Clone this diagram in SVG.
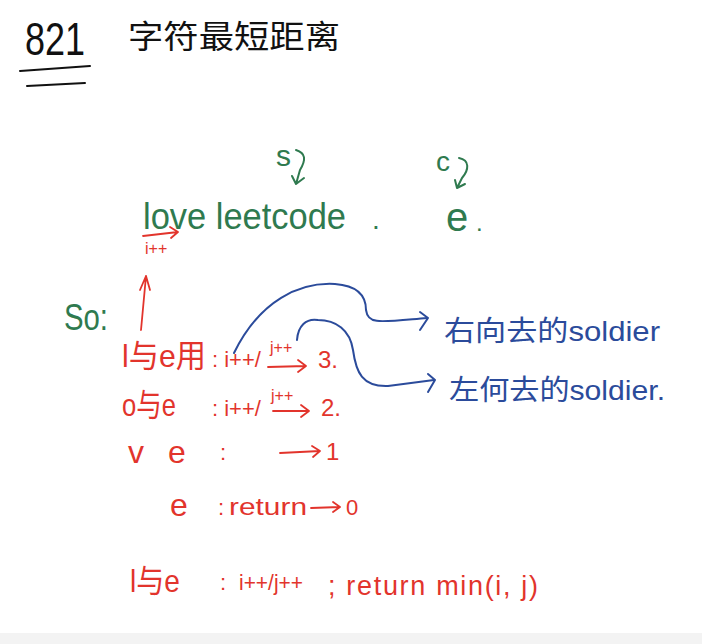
<svg xmlns="http://www.w3.org/2000/svg" width="702" height="644" viewBox="0 0 702 644">
<style>
text{font-family:"Liberation Sans","Noto Sans CJK SC",sans-serif}
.k{fill:#111}
.g{fill:#2f7a4f}
.r{fill:#e2342c}
.b{fill:#2b4b9b}
.ls{fill:none;stroke:#111;stroke-width:2;stroke-linecap:round}
.lr{fill:none;stroke:#e2342c;stroke-width:1.8;stroke-linecap:round;stroke-linejoin:round}
.lg{fill:none;stroke:#2f7a4f;stroke-width:2;stroke-linecap:round;stroke-linejoin:round}
.lb{fill:none;stroke:#2b4b9b;stroke-width:2;stroke-linecap:round;stroke-linejoin:round}
</style>
<rect width="702" height="644" fill="#fff"/>
<rect x="0" y="633" width="702" height="11" fill="#f3f3f3"/>
<g id="title">
<text class="k" x="25" y="55" font-size="46" textLength="60" lengthAdjust="spacingAndGlyphs">821</text>
<path class="ls" d="M20 71 L90 66 M27 86 L85 83"/>
<text class="k" x="128" y="48" font-size="32" textLength="212" lengthAdjust="spacingAndGlyphs">字符最短距离</text>
</g>
<g id="string">
<text class="g" x="143" y="229" font-size="36" textLength="203" lengthAdjust="spacingAndGlyphs">love leetcode</text>
<text class="g" x="372" y="229" font-size="28">.</text>
<text class="g" x="446" y="231" font-size="40">e</text>
<text class="g" x="476" y="231" font-size="24">.</text>
<text class="g" x="276" y="166" font-size="30">s</text>
<text class="g" x="436" y="171" font-size="28">c</text>
</g>
<g id="so">
<text class="g" x="64" y="330" font-size="36" textLength="44" lengthAdjust="spacingAndGlyphs">So:</text>
</g>
<g id="row1">
<text class="r" x="122" y="367" font-size="32" textLength="84" lengthAdjust="spacingAndGlyphs">l与e用</text>
<text class="r" x="212" y="367" font-size="22">: i++/</text>
<text class="r" x="270" y="353" font-size="16">j++</text>
<text class="r" x="318" y="368" font-size="24">3.</text>
</g>
<g id="row2">
<text class="r" x="122" y="416" font-size="32" textLength="54" lengthAdjust="spacingAndGlyphs">o与e</text>
<text class="r" x="212" y="416" font-size="22">: i++/</text>
<text class="r" x="271" y="401" font-size="16">j++</text>
<text class="r" x="321" y="416" font-size="24">2.</text>
</g>
<g id="row3">
<text class="r" x="128" y="463" font-size="32">v</text>
<text class="r" x="168" y="463" font-size="32">e</text>
<text class="r" x="220" y="460" font-size="22">:</text>
<text class="r" x="326" y="460" font-size="24">1</text>
</g>
<g id="row4">
<text class="r" x="170" y="516" font-size="32">e</text>
<text class="r" x="218" y="515" font-size="22">:</text>
<text class="r" x="229" y="515" font-size="24" textLength="78" lengthAdjust="spacingAndGlyphs">return</text>
<text class="r" x="346" y="515" font-size="22">0</text>
</g>
<g id="row5">
<text class="r" x="130" y="592" font-size="32" textLength="50" lengthAdjust="spacingAndGlyphs">l与e</text>
<text class="r" x="220" y="590" font-size="22">:</text>
<text class="r" x="239" y="590" font-size="22" textLength="64" lengthAdjust="spacingAndGlyphs">i++/j++</text>
<text class="r" x="328" y="595" font-size="27" textLength="210">; return min(i, j)</text>
</g>
<g id="note-right">
<text class="b" x="444" y="341" font-size="28" textLength="216" lengthAdjust="spacingAndGlyphs">右向去的soldier</text>
</g>
<g id="note-left">
<text class="b" x="449" y="400" font-size="28" textLength="216" lengthAdjust="spacingAndGlyphs">左何去的soldier.</text>
</g>
<g id="connectors">
<path class="lg" d="M296 150 C306 153 306 160 300 170 L296 184 M292 176 L296 184 L304 178"/>
<path class="lg" d="M459 158 C470 160 469 170 462 178 L457 188 M455 180 L457 188 L465 184"/>
<path class="lr" d="M143 236 L178 232 M170 227 L178 232 L171 238"/>
<text class="r" x="145" y="254" font-size="16">i++</text>
<path class="lr" d="M141 330 L146 276 M140 290 L146 276 L150 290"/>
<path class="lr" d="M268 367 L306 366 M298 360 L306 366 L298 372"/>
<path class="lr" d="M273 411 L309 411 M301 405 L309 411 L301 417"/>
<path class="lr" d="M280 453 L320 451 M312 446 L320 451 L313 457"/>
<path class="lr" d="M311 508 L340 507 M333 502 L340 507 L333 512"/>
<path class="lb" d="M234 353 C260 300 300 282 335 284 C362 286 366 300 366 310 C368 325 380 322 427 318"/>
<path class="lb" d="M420 312 L428 318 L420 330"/>
<path class="lb" d="M297 340 C298 326 306 318 318 320 C336 320 350 330 353 350 C356 372 362 387 388 386 L434 380"/>
<path class="lb" d="M428 374 L435 380 L428 392"/>
</g>
</svg>
